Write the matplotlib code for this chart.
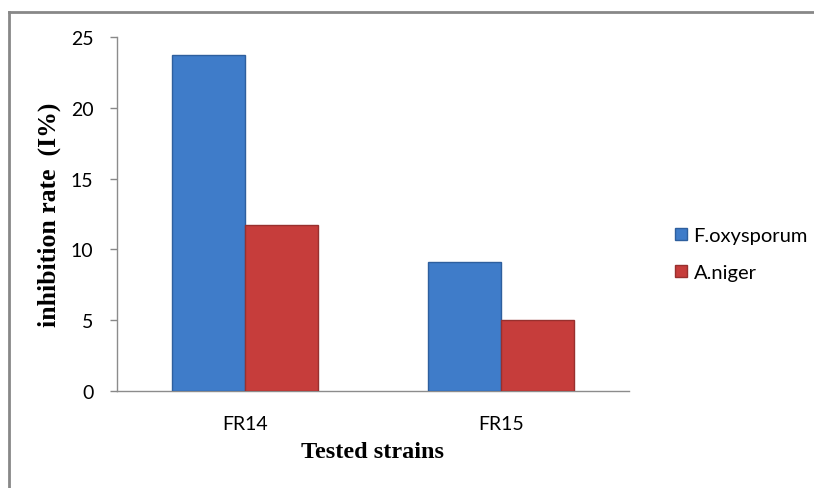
import matplotlib.pyplot as plt
from matplotlib.lines import Line2D
import numpy as np

strains = ["FR14", "FR15"]
f_oxysporum = [23.7, 9.1]
a_niger = [11.7, 5.0]
series_names = ["F.oxysporum", "A.niger"]
y_ticks = [0, 5, 10, 15, 20, 25]

fig = plt.figure(figsize=(8.14, 4.89), dpi=100)
ax = fig.add_axes([0.1437, 0.1984, 0.6290, 0.7239])

x = np.arange(len(strains))
w = 0.286
ax.bar(x - w / 2, f_oxysporum, w, color="#3F7CC9", edgecolor="#2E5F9E", linewidth=1.0, zorder=3)
ax.bar(x + w / 2, a_niger, w, color="#C63D3B", edgecolor="#98302E", linewidth=1.0, zorder=3)

ax.set_xlim(-0.5, 1.5)
ax.set_ylim(0, 25)
ax.set_yticks(y_ticks)
ax.set_xticks(x)
ax.set_xticklabels(strains, family="Lato", fontsize=14)
ax.set_yticklabels([str(t) for t in y_ticks], family="Lato", fontsize=14)
ax.tick_params(axis="x", length=0, pad=17)
ax.tick_params(axis="y", length=5, width=1, color="#888888", pad=12)

for s in ["top", "right"]:
    ax.spines[s].set_visible(False)
for s in ["left", "bottom"]:
    ax.spines[s].set_color("#8c8c8c")
    ax.spines[s].set_linewidth(1)

ax.set_xlabel("Tested strains", family="Liberation Serif", fontweight="bold", fontsize=17.5, labelpad=7)
ax.set_ylabel("inhibition rate  (I%)", family="Liberation Serif", fontweight="bold", fontsize=18.5, labelpad=7)

handles = [Line2D([], [], marker="s", linestyle="", markersize=9, markerfacecolor="#3F7CC9", markeredgecolor="#2E5F9E"),
           Line2D([], [], marker="s", linestyle="", markersize=9, markerfacecolor="#C63D3B", markeredgecolor="#98302E")]
fig.legend(handles, series_names, loc="center left", bbox_to_anchor=(0.805, 0.478), frameon=False,
           prop={"family": "Lato", "size": 14.5}, handletextpad=0.2, labelspacing=1.0, handlelength=0.8)

# outer chart frame (top and left edges visible)
fig.add_artist(Line2D([9 / 814, 1.0], [1 - 13 / 489, 1 - 13 / 489], color="#888888", linewidth=2))
fig.add_artist(Line2D([9 / 814, 9 / 814], [0, 1 - 13 / 489], color="#888888", linewidth=2))

fig.savefig("out.png", dpi=100)
